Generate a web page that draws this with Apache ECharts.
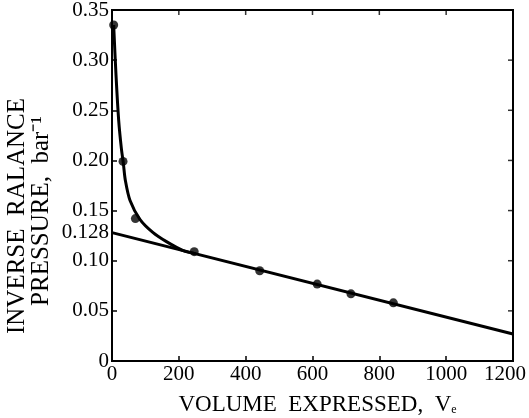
<!DOCTYPE html>
<html><head><meta charset="utf-8">
<script src="https://cdn.jsdelivr.net/npm/echarts@6/dist/echarts.min.js"></script>
<style>html,body{margin:0;padding:0;background:#fff}#c{width:529px;height:418px}</style>
</head><body><div id="c"></div>
<script>
// measured data points (Ve, 1/P)
var pointsX = [5, 33, 70, 246, 442, 614, 715, 842];
var pointsY = [0.335, 0.199, 0.142, 0.109, 0.090, 0.0767, 0.067, 0.058];
// hand-drawn curve through the early points
var curveX = [5, 12, 20, 28, 34, 40, 54, 84, 123, 163, 213, 250];
var curveY = [0.335, 0.285, 0.240, 0.212, 0.197, 0.180, 0.160, 0.141, 0.128, 0.119, 0.110, 0.107];
// straight extrapolation line
var lineX = [0, 1200];
var lineY = [0.128, 0.027];
// axis ranges and ticks
var xMin = 0, xMax = 1200, yMin = 0, yMax = 0.35;
var yTicks = [0, 0.05, 0.10, 0.15, 0.20, 0.25, 0.30, 0.35];
var yLabels = [0, 0.05, 0.10, 0.128, 0.15, 0.20, 0.25, 0.30, 0.35];
var xTicks = [0, 200, 400, 600, 800, 1000, 1200];

function zip(a, b) { return a.map(function (v, i) { return [v, b[i]]; }); }
var font = 'Liberation Serif';
var chart = echarts.init(document.getElementById('c'), null, {renderer: 'canvas'});
chart.setOption({
  animation: false,
  backgroundColor: '#fff',
  grid: {left: 112, right: 16, top: 10, bottom: 57, outerBoundsMode: 'none',
    show: true, borderColor: '#000', borderWidth: 2},
  xAxis: {
    type: 'value', min: xMin, max: xMax, interval: 200,
    axisLine: {onZero: false, lineStyle: {color: '#000', width: 2}},
    axisTick: {inside: true, length: 5, lineStyle: {color: '#000', width: 1.5}},
    axisLabel: {color: '#000', fontFamily: font, fontSize: 21, margin: 3,
      formatter: function (v) { return v === 1200 ? '{r|1200}' : String(v); },
      rich: {r: {fontFamily: font, fontSize: 21, color: '#000', padding: [0, 16, 0, 0]}}},
    splitLine: {show: false},
    name: '{a|VOLUME  EXPRESSED,  V}{s|e}', nameLocation: 'middle', nameGap: 32,
    nameTextStyle: {padding: [0, 0, 0, 10], rich: {
      a: {fontFamily: font, fontSize: 23, color: '#000'},
      s: {fontFamily: font, fontSize: 12, color: '#000', verticalAlign: 'bottom', padding: [10, 0, 0, 0]}
    }}
  },
  yAxis: {
    type: 'value', min: yMin, max: yMax,
    axisLine: {show: true, onZero: false, lineStyle: {color: '#000', width: 2}},
    axisTick: {inside: true, length: 5, customValues: yTicks, lineStyle: {color: '#000', width: 1.5}},
    axisLabel: {color: '#000', fontFamily: font, fontSize: 21, margin: 3, customValues: yLabels,
      formatter: function (v) { if (v === 0) return '0'; if (Math.abs(v - 0.128) < 1e-6) return '0.128'; return v.toFixed(2); }},
    splitLine: {show: false}
  },
  graphic: [{
    type: 'text', x: 17, y: 216, rotation: Math.PI / 2,
    style: {text: 'INVERSE  RALANCE', font: '25px "Liberation Serif"', fill: '#000', textAlign: 'center', textVerticalAlign: 'middle'}
  }, {
    type: 'text', x: 41, y: 211, rotation: Math.PI / 2,
    style: {text: 'PRESSURE,  bar⁻¹', font: '25px "Liberation Serif"', fill: '#000', textAlign: 'center', textVerticalAlign: 'middle'}
  }],
  series: [{
    // top and right sides of the frame, along the axis extents
    type: 'line', data: [[xMin, yMax], [xMax, yMax], [xMax, yMin]], symbol: 'none', clip: false, silent: true,
    lineStyle: {color: '#000', width: 2}, z: 5
  }, {
    // inward ticks on the top side
    type: 'scatter', data: xTicks.map(function (v) { return [v, yMax]; }), clip: false, silent: true,
    symbol: 'rect', symbolSize: [1.5, 5], symbolOffset: [0, 2.5], itemStyle: {color: '#000'}, z: 5
  }, {
    // inward ticks on the right side
    type: 'scatter', data: yTicks.map(function (v) { return [xMax, v]; }), clip: false, silent: true,
    symbol: 'rect', symbolSize: [5, 1.5], symbolOffset: [-2.5, 0], itemStyle: {color: '#000'}, z: 5
  }, {
    type: 'line', data: zip(lineX, lineY), showSymbol: false, symbol: 'none',
    lineStyle: {color: '#000', width: 3}
  }, {
    type: 'line', data: zip(curveX, curveY), smooth: 0.3, symbol: 'none',
    lineStyle: {color: '#000', width: 3}
  }, {
    type: 'scatter', data: zip(pointsX, pointsY), symbolSize: 9,
    itemStyle: {color: '#000'}
  }]
});
</script></body></html>
